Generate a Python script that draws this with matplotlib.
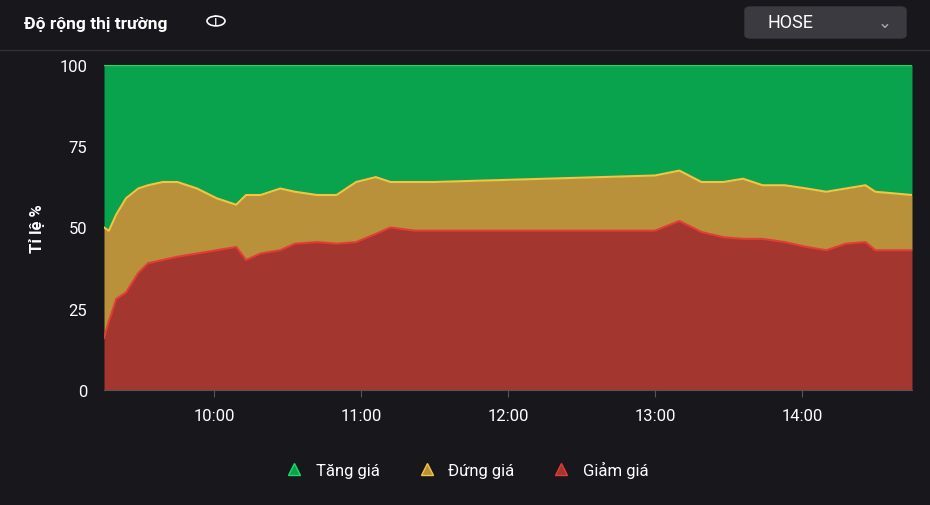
import matplotlib.pyplot as plt
from matplotlib.patches import FancyBboxPatch, Circle
from matplotlib.lines import Line2D

# minutes since 9:00
times = [15, 17, 20, 24, 29, 33, 39, 45, 53, 61, 69, 73, 79, 87, 93, 102, 110, 118,
         126, 132, 142, 150, 240, 250, 259, 268, 276, 284, 293, 302, 310, 318, 326, 330, 345]
giam = [16, 21, 28, 30, 36, 39, 40, 41, 42, 43, 44, 40, 42, 43, 45, 45.5, 45, 45.5,
        48, 50, 49, 49, 49, 52, 48.6, 47, 46.5, 46.5, 45.5, 44, 43, 45, 45.5, 43, 43]
giam_dung = [50, 49, 54, 59, 62, 63, 64, 64, 62, 59, 57, 60, 60, 62, 61, 60, 60, 64,
             65.5, 64, 64, 64, 66, 67.5, 64, 64, 65, 63, 63, 62, 61, 62, 63, 61, 60]
tick_pos = [60, 120, 180, 240, 300]
tick_labels = ["10:00", "11:00", "12:00", "13:00", "14:00"]

plt.rcParams["font.family"] = ["Roboto", "DejaVu Sans"]
bg = "#17171c"
green, yellow, red = "#08a34c", "#b8913a", "#a3362f"

fig = plt.figure(figsize=(9.30, 5.06), dpi=100, facecolor=bg)
ax = fig.add_axes([104 / 930, 1 - 391 / 506, 808 / 930, 325 / 506], facecolor=bg)

ax.fill_between(times, giam_dung, 100, color=green, lw=0)
ax.fill_between(times, giam, giam_dung, color=yellow, lw=0)
ax.fill_between(times, 0, giam, color=red, lw=0)
ax.plot(times, [100] * len(times), color="#1fd86a", lw=1)
ax.plot(times, giam_dung, color="#f5c443", lw=1.5)
ax.plot(times, giam, color="#e33b36", lw=1.5)

ax.set_xlim(15, 345)
ax.set_ylim(0, 100)
ax.set_yticks([0, 25, 50, 75, 100])
ax.set_xticks(tick_pos, tick_labels)
ax.tick_params(colors="white", labelsize=12, length=0, pad=12)
ax.tick_params(axis="x", length=5, color="#555", pad=8)
for s in ["top", "right", "left"]:
    ax.spines[s].set_visible(False)
ax.spines["bottom"].set_color("#555")
ax.set_ylabel("Tỉ lệ %", color="white", fontsize=12, fontweight="bold", labelpad=10)

fig.text(24 / 930, 1 - 25 / 506, "Độ rộng thị trường", color="white", fontsize=12.5,
         fontweight="bold", va="center")
fig.add_artist(Circle((216 / 930, 1 - 22 / 506), 9 / 930, transform=fig.transFigure,
                      fill=False, ec="white", lw=1.2))
fig.text(216 / 930, 1 - 22 / 506, "i", color="white", fontsize=10, va="center", ha="center")
fig.add_artist(Line2D([0, 1], [1 - 51 / 506] * 2, color="#333", lw=1))
fig.add_artist(FancyBboxPatch((745 / 930, 1 - 39 / 506), 161 / 930, 31 / 506,
                              boxstyle="round,pad=0,rounding_size=0.006",
                              transform=fig.transFigure, color="#3a3a40"))
fig.text(767 / 930, 1 - 23 / 506, "HOSE", color="white", fontsize=13, va="center")
fig.text(885 / 930, 1 - 23 / 506, "⌄", color="#aaa", fontsize=12, va="center", ha="center",
         family=["DejaVu Sans"])

handles = [Line2D([], [], marker="^", ls="", ms=9, color=c, markeredgecolor=e)
           for c, e in [(green, "#1fd86a"), (yellow, "#f5c443"), (red, "#e33b36")]]
leg = fig.legend(handles, ["Tăng giá", "Đứng giá", "Giảm giá"], loc="center",
                 bbox_to_anchor=(463 / 930, 1 - 470 / 506), ncol=3, frameon=False,
                 labelcolor="white", fontsize=12, handletextpad=0.3, columnspacing=1.8)

fig.savefig("out.png", facecolor=bg)
